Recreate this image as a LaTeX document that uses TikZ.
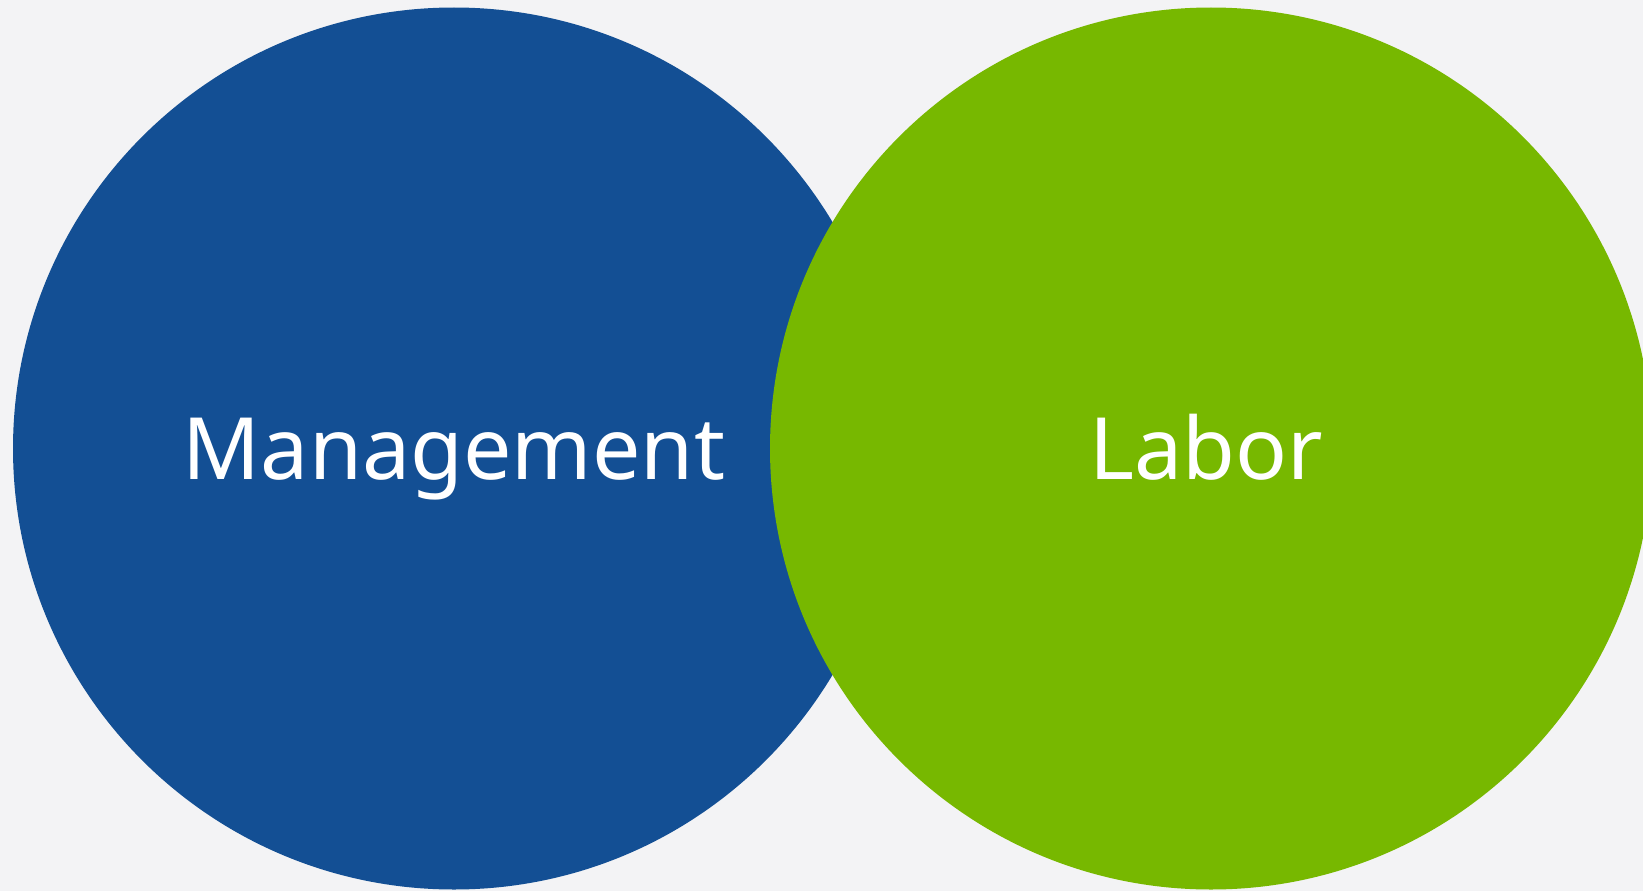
\documentclass[tikz,border=0pt]{standalone}
\usepackage{fontspec}
\setmainfont{Noto Sans}
\definecolor{pagebg}{HTML}{F3F3F5}
\definecolor{mgmtblue}{HTML}{134F94}
\definecolor{laborgreen}{HTML}{77B800}
\tikzset{
  disc/.style={circle, minimum size=882pt, inner sep=0pt, draw=none},
  label/.style={text=white, anchor=base, inner sep=0pt, font=\fontsize{86}{90}\selectfont},
}
\begin{document}
\begin{tikzpicture}[x=1pt,y=-1pt]
  % canvas
  \fill[pagebg] (0,0) rectangle (1643,891);
  \useasboundingbox (0,0) rectangle (1643,891);
  \begin{scope}
    \clip (0,0) rectangle (1643,891);
    \node[disc, fill=mgmtblue] (mgmt) at (454,448.5) {};
    \node[disc, fill=laborgreen] (labor) at (1211,448.5) {};
  \end{scope}
  \node[label] (mgmttext) at (454,479) {Management};
  \node[label] (labortext) at (1206,479) {Labor};
\end{tikzpicture}
\end{document}
